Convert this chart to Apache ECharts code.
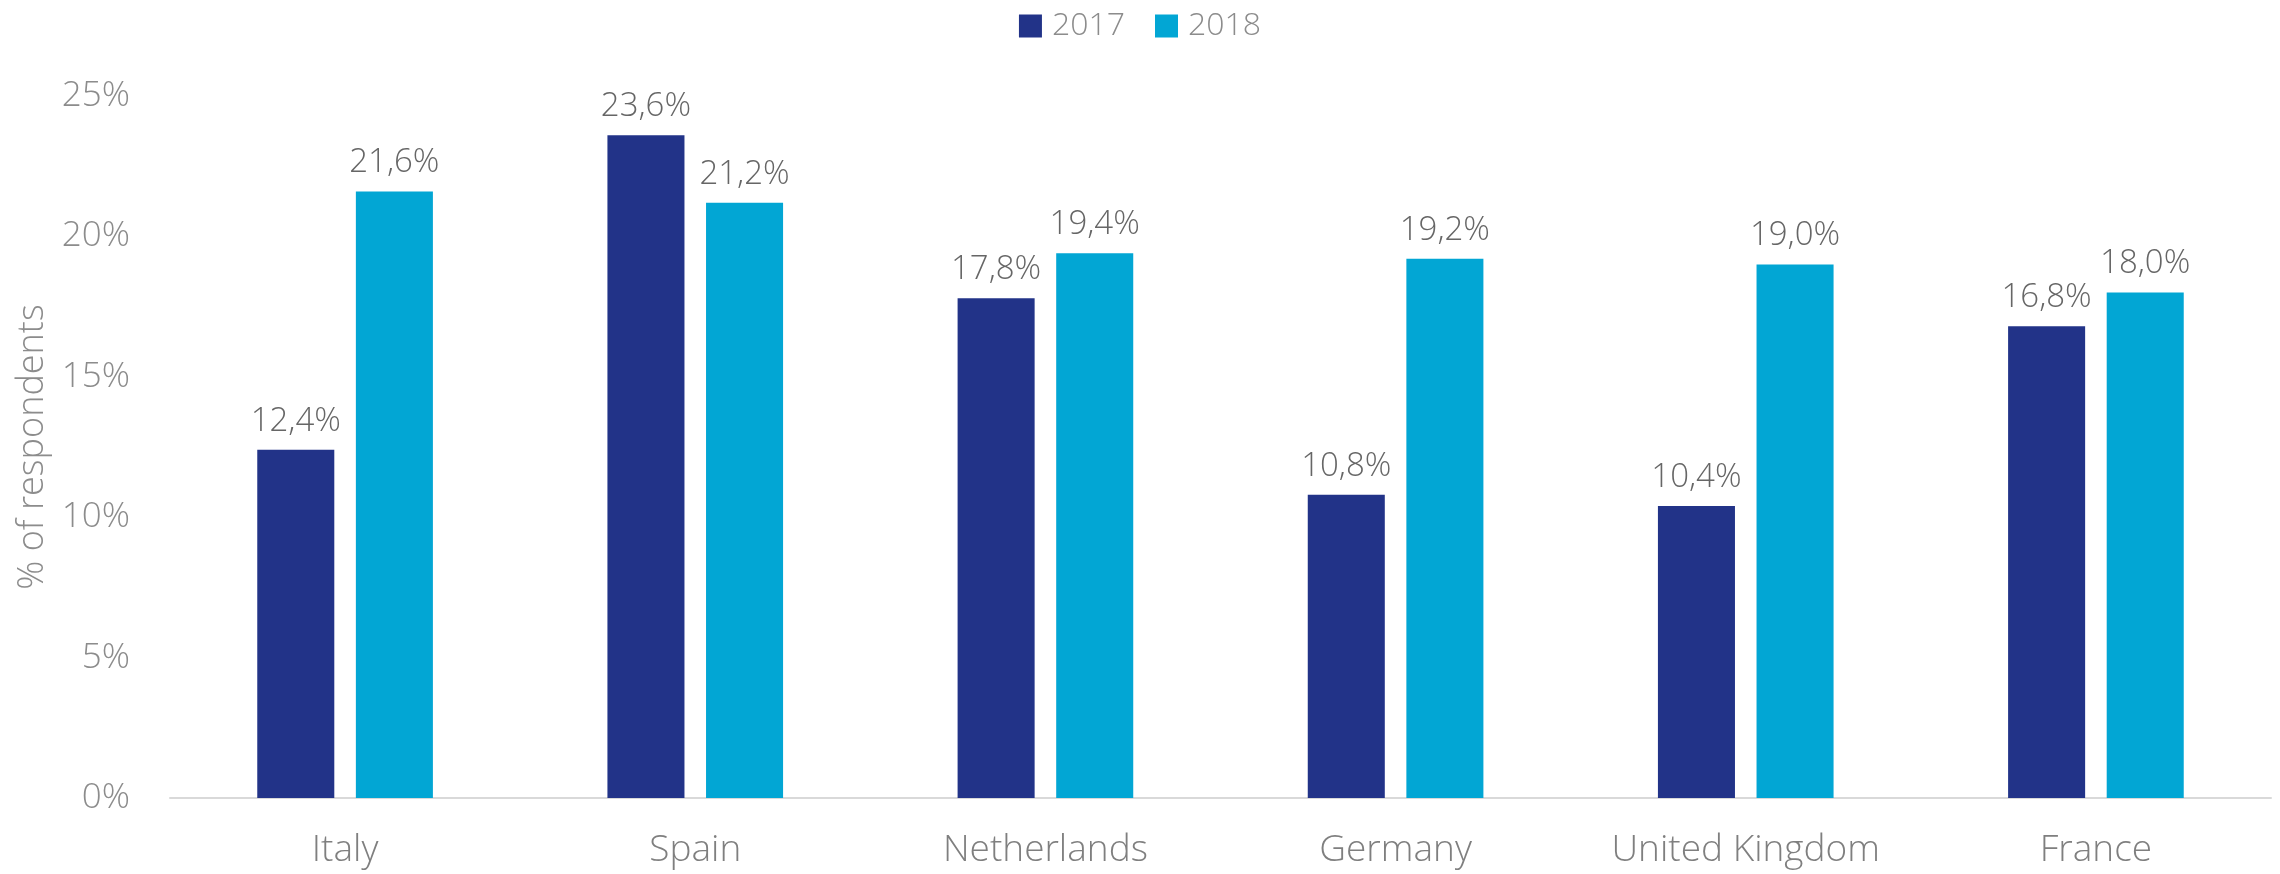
<!DOCTYPE html>
<html>
<head>
<meta charset="utf-8">
<script src="https://cdn.jsdelivr.net/npm/echarts@6/dist/echarts.min.js"></script>
<style>
  html, body { margin: 0; padding: 0; background: #ffffff; }
  #chart { width: 2280px; height: 874px; }
</style>
</head>
<body>
<div id="chart"></div>
<script>
// Share of respondents per country, two survey years
const countries = ['Italy', 'Spain', 'Netherlands', 'Germany', 'United Kingdom', 'France'];
const values2017 = [12.4, 23.6, 17.8, 10.8, 10.4, 16.8];
const values2018 = [21.6, 21.2, 19.4, 19.2, 19.0, 18.0];
const yearNames = ['2017', '2018'];

const FONT = '"Open Sans", "Segoe UI", Lato, sans-serif';
const pct = v => String(v.toFixed(1)).replace('.', ',') + '%';

const chart = echarts.init(document.getElementById('chart'), null, { renderer: 'canvas' });

const labelStyle = {
  show: true,
  position: 'top',
  distance: 12,
  color: '#666666',
  fontFamily: FONT,
  fontWeight: 300,
  fontSize: 33,
  formatter: p => pct(p.value)
};

chart.setOption({
  animation: false,
  textStyle: { fontFamily: FONT },
  legend: {
    top: 5,
    left: 'center',
    itemWidth: 23,
    itemHeight: 23,
    itemGap: 30,
    icon: 'rect',
    textStyle: { color: '#8c8c8c', fontSize: 32, fontWeight: 300, fontFamily: FONT, padding: [0, 0, 0, 5] },
    data: yearNames
  },
  grid: { left: 170, right: 9, top: 96, bottom: 76, containLabel: false },
  xAxis: {
    type: 'category',
    data: countries,
    axisLine: { show: true, lineStyle: { color: '#d9d9d9', width: 2 } },
    axisTick: { show: false },
    axisLabel: { color: '#7f7f7f', fontSize: 37, fontWeight: 300, fontFamily: FONT, margin: 34 }
  },
  yAxis: {
    type: 'value',
    min: 0,
    max: 25,
    interval: 5,
    name: '% of respondents',
    nameLocation: 'middle',
    nameGap: 114,
    nameTextStyle: { color: '#8c8c8c', fontSize: 36, fontWeight: 300, fontFamily: FONT },
    axisLine: { show: false },
    axisTick: { show: false },
    splitLine: { show: false },
    axisLabel: { color: '#8c8c8c', fontSize: 35, fontWeight: 300, fontFamily: FONT, margin: 40, formatter: v => v + '%' }
  },
  series: [
    {
      name: yearNames[0],
      type: 'bar',
      data: values2017,
      barWidth: '22%',
      barGap: '28%',
      itemStyle: { color: '#223388' },
      label: labelStyle
    },
    {
      name: yearNames[1],
      type: 'bar',
      data: values2018,
      barWidth: '22%',
      itemStyle: { color: '#02a6d4' },
      label: labelStyle
    }
  ]
});
</script>
</body>
</html>
